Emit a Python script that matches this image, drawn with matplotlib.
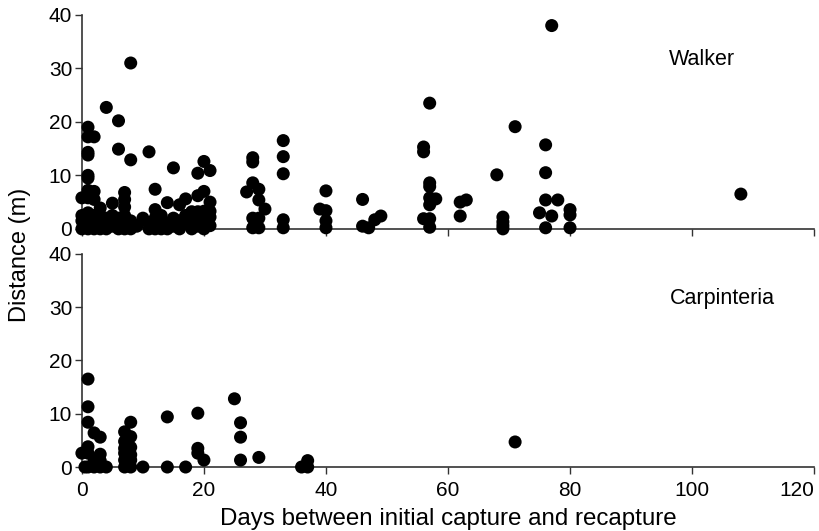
import matplotlib.pyplot as plt
import numpy as np

plt.rcParams['font.family'] = ['Liberation Sans', 'DejaVu Sans']

# Walker site: days between captures, distance moved (m)
walker_days = [8, 4, 6, 1, 1, 2, 1, 1, 6, 8, 11, 1, 1, 15, 20, 19, 21, 12,
               0, 1, 2, 1, 2, 7, 7, 5, 3, 7, 17, 19, 20, 21, 14, 16, 12, 18,
               0, 0, 0, 1, 1, 1, 1, 1, 2, 2, 2, 3, 3, 3, 4, 4, 4, 5, 5, 5,
               6, 6, 6, 7, 7, 7, 8, 8, 9, 10, 11, 11, 12, 12, 13, 13, 13,
               14, 14, 15, 15, 16, 16, 17, 17, 18, 18, 19, 19, 19, 20, 20, 20,
               21, 21, 21,
               28, 28, 28, 27, 29, 29, 30, 28, 29, 28, 29,
               33, 33, 33, 33, 33, 40, 39, 40, 40, 40,
               46, 46, 47, 48, 49,
               57, 56, 56, 57, 57, 57, 58, 57, 56, 57, 57,
               62, 63, 62, 68, 71, 69, 69, 69, 69,
               77, 76, 76, 76, 78, 75, 77, 76, 80, 80, 80, 108]
walker_dist = [31, 22.7, 20.2, 19, 17.2, 17.2, 14.3, 13.8, 14.9, 12.9, 14.4, 10, 9.5, 11.4, 12.6, 10.4, 10.9, 7.4,
               5.8, 7.2, 7.0, 5.8, 5.5, 6.8, 5.5, 4.8, 3.9, 4.1, 5.6, 6.2, 7.0, 5.0, 4.9, 4.5, 3.6, 3.2,
               0, 1.5, 2.5, 0, 0.5, 1, 2, 3, 0, 1, 2.5, 0, 1.5, 2.5, 0, 1, 2, 0.5, 1.5, 2.5,
               0, 1, 2, 0, 1, 2.5, 0, 1.5, 0.5, 2.0, 0, 1, 0, 2, 0, 1.5, 2.5,
               0, 1, 0.5, 2, 0, 1.5, 1, 2.5, 0, 1.5, 0.5, 2, 3.2, 0, 1.7, 3.3,
               0.6, 2.2, 3.3,
               13.3, 12.5, 8.6, 6.9, 7.4, 5.4, 3.7, 2.0, 2.0, 0.2, 0.2,
               16.5, 13.5, 10.3, 1.7, 0.2, 7.1, 3.7, 3.4, 1.5, 0.2,
               5.5, 0.5, 0.2, 1.7, 2.4,
               23.5, 15.3, 14.4, 8.6, 7.9, 5.8, 5.6, 4.5, 1.9, 1.9, 0.3,
               5.0, 5.4, 2.4, 10.1, 19.1, 2.2, 1.3, 0.6, 0,
               38, 15.7, 10.5, 5.4, 5.4, 3.0, 2.4, 0.2, 3.6, 2.6, 0.2, 6.5]

# Carpinteria site
carp_days = [1, 1, 1, 2, 3, 0, 1, 1, 3, 1, 2, 3, 4, 2, 3, 0.5,
             7, 8, 7, 8, 7, 8, 7, 8, 7, 8, 7, 8,
             10, 14, 14, 17, 19, 19, 19, 20, 25, 26, 26, 26, 29, 36, 37, 37, 71]
carp_dist = [16.5, 11.3, 8.4, 6.4, 5.6, 2.6, 3.8, 2.6, 2.4, 0, 0, 0, 0, 1.2, 1.2, 0,
             6.6, 8.4, 4.8, 5.7, 3.5, 3.7, 2.6, 2.3, 1.3, 1.3, 0, 0,
             0, 9.4, 0, 0, 10.1, 3.5, 2.6, 1.3, 12.8, 8.3, 5.6, 1.3, 1.8, 0, 0, 1.2, 4.7]

x_ticks = [0, 20, 40, 60, 80, 100, 120]
y_ticks = [0, 10, 20, 30, 40]

fig = plt.figure(figsize=(8.19, 5.31), dpi=100)
ax1 = fig.add_axes([0.100, 0.569, 0.894, 0.403])
ax2 = fig.add_axes([0.100, 0.1205, 0.894, 0.4015])

for ax, xs, ys, name, lx in [(ax1, walker_days, walker_dist, 'Walker', 101.6),
                             (ax2, carp_days, carp_dist, 'Carpinteria', 105)]:
    ax.scatter(xs, ys, s=88, color='black', edgecolors='none', clip_on=False, zorder=3)
    ax.set_xlim(0, 120)
    ax.set_ylim(0, 40)
    ax.set_xticks(x_ticks)
    ax.set_yticks(y_ticks)
    for s in ['top', 'right']:
        ax.spines[s].set_visible(False)
    for s in ['left', 'bottom']:
        ax.spines[s].set_linewidth(1.2)
        ax.spines[s].set_color('#333333')
    ax.tick_params(direction='out', length=5, width=1.0, colors='#333333',
                   labelsize=15, labelcolor='black', pad=2)
    ax.tick_params(axis='x', pad=5)
    ax.text(lx, 31.6, name, fontsize=15.5, ha='center', va='center')

ax1.set_xticklabels([])
ax2.set_xticklabels([str(t) for t in x_ticks])
ax2.get_xticklabels()[-1].set_ha('right')
ax2.set_xlabel('Days between initial capture and recapture', fontsize=17.4, labelpad=6)
fig.text(0.025, 0.52, 'Distance (m)', rotation=90, fontsize=17, ha='center', va='center')

fig.savefig('out.png', dpi=100)
